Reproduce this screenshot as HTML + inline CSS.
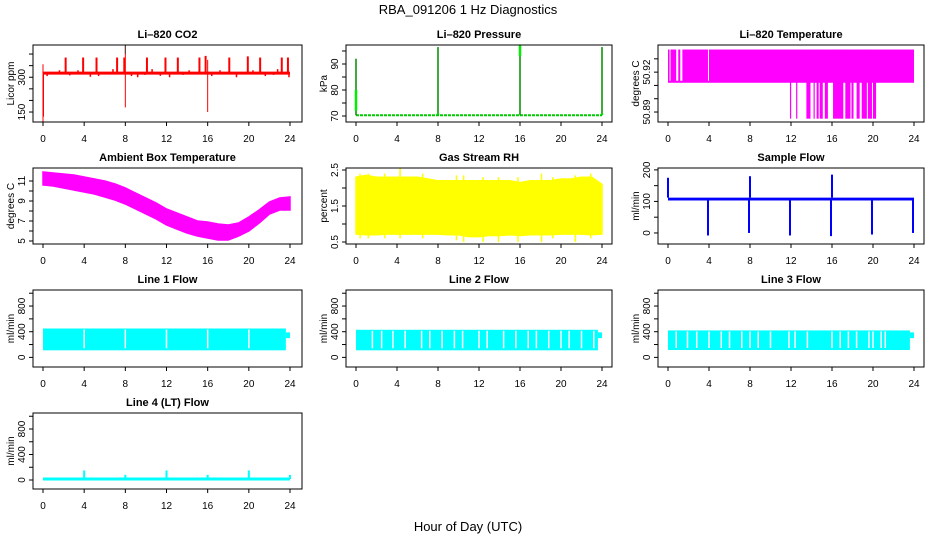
<!DOCTYPE html>
<html><head><meta charset="utf-8">
<style>
html,body{margin:0;padding:0;background:#fff;}
svg{display:block;font-family:"Liberation Sans",sans-serif;}
</style></head>
<body>
<svg id="c" width="936" height="540" viewBox="0 0 936 540">
<text x="468" y="14" text-anchor="middle" font-size="13">RBA_091206  1 Hz Diagnostics</text>
<text x="468" y="531" text-anchor="middle" font-size="13">Hour of Day (UTC)</text>
</svg>
<script>
// ---- data ----
const xTicks = [0,4,8,12,16,20,24];
const hours = [0,1,2,3,4,5,6,7,8,9,10,11,12,13,14,15,16,17,18,19,20,21,22,23,24];
// CO2
const co2Base = 318;
const co2SpikeT = [2.2,3.9,5.2,7.2,7.9,10.1,11.9,13.1,15.2,15.8,18.1,19.9,21.1,23.2,23.8];
const co2SpikeV = [385,385,385,385,385,385,385,385,385,392,385,390,385,385,385];
const co2SmallT = [0.4,1.0,1.6,2.6,3.4,4.6,5.4,6.2,6.8,8.6,9.2,9.9,10.6,11.4,12.3,13.6,14.2,14.6,16.4,17.2,18.8,19.4,20.4,21.6,22.4,22.8,23.9];
const co2SmallV = [305,312,330,308,330,302,305,312,335,305,300,310,335,306,300,310,330,315,305,330,300,312,330,305,310,335,300];
const co2BigT = [0,0.05,8,16];
const co2BigLo = [107,130,170,150];
const co2BigHi = [356,320,439,375];
// Pressure
const presBase = 70.3;
const presSpikeT = [0,8,16,24];
const presSpikeV = [92,96.5,97.5,96.5];
const presThickLo = [72,70.5,93,70.5];
const presThickHi = [80,71,97.5,71];
// Li-820 temperature
const tempLo = 50.912, tempHi = 50.937, tempMin = 50.885;
const tempGapStart = [0.15,0.8,1.2,3.9];
const tempGapEnd = [0.25,1.0,1.4,4.0];
const tempDropStart = [11.9,12.5,13.5,14.2,14.5,14.8,15.3,16.1,17.3,17.9,18.4,18.9,19.5,20.0];
const tempDropEnd = [12.0,12.6,13.9,14.3,14.7,15.1,15.6,17.1,17.8,18.1,18.7,19.4,19.9,20.3];
// Ambient box temperature
const ambHi = [11.9,11.8,11.7,11.6,11.4,11.2,11.0,10.7,10.3,9.8,9.3,8.8,8.2,7.8,7.4,7.0,6.9,6.7,6.6,6.8,7.4,8.1,8.9,9.3,9.4];
const ambLo = [10.6,10.5,10.3,10.1,9.9,9.7,9.4,9.1,8.7,8.2,7.7,7.2,6.6,6.2,5.8,5.5,5.3,5.1,5.1,5.5,6.0,6.8,7.7,8.1,8.1];
// Gas stream RH
const rhHi = [2.3,2.35,2.3,2.3,2.3,2.3,2.3,2.25,2.2,2.2,2.2,2.2,2.2,2.2,2.2,2.2,2.15,2.2,2.2,2.2,2.25,2.25,2.3,2.3,2.1];
const rhLo = [0.72,0.7,0.7,0.72,0.72,0.72,0.72,0.72,0.72,0.7,0.7,0.65,0.65,0.68,0.68,0.7,0.68,0.7,0.7,0.7,0.72,0.72,0.72,0.7,0.72];
const rhSpikeT = [0.4,1.2,2.8,4.3,6.5,9.8,10.5,12.4,13.9,15.8,18.1,19.2,21.4,22.9];
const rhSpikeHi = [2.4,2.4,2.4,2.55,2.4,2.35,2.35,2.3,2.3,2.3,2.4,2.3,2.35,2.4];
const rhSpikeLo = [0.6,0.6,0.6,0.6,0.6,0.55,0.5,0.5,0.5,0.5,0.5,0.6,0.5,0.6];
// Sample flow
const sfHi = 112, sfLo = 103;
const sfDipT = [4,8,12,16,20,24];
const sfDipV = [-8,0,-8,-10,-5,0];
const sfSpikeT = [0,8,16];
const sfSpikeV = [175,180,185];
// Line flows
const l1Hi = 450, l1Lo = 110, l1Gaps = [4,8,12,16,20];
const l2Hi = 430, l2Lo = 110, l2Gaps = [1.6,2.5,3.6,4.8,6.4,7.2,8.4,9.6,10.4,12.0,12.8,14.4,15.6,16.8,17.6,18.8,20.0,20.8,22.0,23.2];
const l3Hi = 420, l3Lo = 115, l3Gaps = [0.8,1.9,2.8,4.0,5.2,6.0,7.2,8.0,8.8,10.0,11.8,12.4,13.6,16.0,16.8,17.6,18.4,19.6,20.0,20.8,21.2];
// Line 4
const l4Base = 15;
const l4SpikeT = [4,8,12,16,20,24];
const l4SpikeV = [150,80,150,80,150,80];

// ---- layout ----
const NS = "http://www.w3.org/2000/svg";
const svg = document.getElementById('c');
const colL = [33,346,658], colR = [302,612,924], colX0 = [43,356,668], colX24 = [290,602,914];
const rowT = [45,168,290,413], rowB = [122,244,367,489];
function mk(tag, attrs, parent){
  const e = document.createElementNS(NS, tag);
  for (const k in attrs) e.setAttribute(k, attrs[k]);
  (parent||svg).appendChild(e);
  return e;
}
function panel(col,row,name,title,ylab,ylim,ticks,labels,draw){
  const g = mk('g',{});
  
  
  const L=colL[col],R=colR[col],T=rowT[row],B=rowB[row];
  const sx = h => colX0[col] + (colX24[col]-colX0[col])*h/24;
  const sy = v => B - (v-ylim[0])/(ylim[1]-ylim[0])*(B-T);
  const plot = mk('g',{},g);
  
  
  draw(plot,sx,sy,L,R,T,B);
  const box = mk('rect',{x:L,y:T,width:R-L,height:B-T,fill:'none',stroke:'#000','stroke-width':1},g);
  
  
  const t = mk('text',{x:(L+R)/2,y:T-7,'text-anchor':'middle','font-size':11,'font-weight':'bold'},g);
  t.textContent = title;
  
  
  const yl = mk('text',{transform:`translate(${L-19},${(T+B)/2}) rotate(-90)`,'text-anchor':'middle','font-size':10},g);
  yl.textContent = ylab;
  
  
  const ya = mk('g',{},g);
  
  
  ticks.forEach(v=>{
    const y=sy(v);
    mk('line',{x1:L-4,x2:L,y1:y,y2:y,stroke:'#000'},ya);
  });
  labels.forEach(v=>{
    const y=sy(v);
    const tl = mk('text',{transform:`translate(${L-8},${y}) rotate(-90)`,'text-anchor':'middle','font-size':10},ya);
    tl.textContent = String(v);
  });
  const xa = mk('g',{},g);
  
  
  xTicks.forEach(h=>{
    const x=sx(h);
    mk('line',{x1:x,x2:x,y1:B,y2:B+4,stroke:'#000'},xa);
    const tl = mk('text',{x:x,y:B+20,'text-anchor':'middle','font-size':10},xa);
    tl.textContent = String(h);
  });
}
function vline(p,x,y1,y2,c,w){ mk('line',{x1:x,x2:x,y1:y1,y2:y2,stroke:c,'stroke-width':w||1},p); }
function band(p,sx,sy,hi,lo,c){
  let d='M'+hours.map((h,i)=>sx(h)+','+sy(hi[i])).join(' L');
  d+=' L'+hours.slice().reverse().map((h,i)=>sx(h)+','+sy(lo[hours.length-1-i])).join(' L')+' Z';
  mk('path',{d:d,fill:c,stroke:c,'stroke-width':1.5},p);
}

// CO2
panel(0,0,'co2','Li\u2013820 CO2','Licor ppm',[107,439],[150,200,250,300,350,400],[150,300],(p,sx,sy)=>{
  mk('line',{x1:sx(0),x2:sx(24),y1:sy(co2Base),y2:sy(co2Base),stroke:'red','stroke-width':3},p);
  co2SpikeT.forEach((t,i)=>vline(p,sx(t),sy(co2Base),sy(co2SpikeV[i]),'red',2));
  co2SmallT.forEach((t,i)=>vline(p,sx(t),sy(co2Base),sy(co2SmallV[i]),'red',1.5));
  co2BigT.forEach((t,i)=>vline(p,sx(t),sy(co2BigLo[i]),sy(co2BigHi[i]),'red',1));
  vline(p,sx(8),sy(400),sy(439),'#444',1);
});
// Pressure
panel(1,0,'pressure','Li\u2013820 Pressure','kPa',[67.7,97.3],[70,75,80,85,90,95],[70,80,90],(p,sx,sy)=>{
  mk('line',{x1:sx(0),x2:sx(24),y1:sy(presBase),y2:sy(presBase),stroke:'#00cc00','stroke-width':2,'stroke-dasharray':'3,1'},p);
  presSpikeT.forEach((t,i)=>{
    vline(p,sx(t),sy(presBase),sy(presSpikeV[i]),'#00cc00',1.5);
    vline(p,sx(t),sy(presBase),sy(presSpikeV[i]),'#004400',0.7);
    vline(p,sx(t),sy(presThickLo[i]),sy(presThickHi[i]),'#00ee00',2.5);
  });
});
// Li-820 temperature
panel(2,0,'li820-temperature','Li\u2013820 Temperature','degrees C',[50.8825,50.9404],[50.89,50.90,50.91,50.92,50.93],[50.89,50.92],(p,sx,sy)=>{
  mk('rect',{x:sx(0),y:sy(tempHi),width:sx(24)-sx(0),height:sy(tempLo)-sy(tempHi),fill:'#ff00ff'},p);
  tempGapStart.forEach((s,i)=>mk('rect',{x:sx(s),y:sy(tempHi),width:Math.max(1,sx(tempGapEnd[i])-sx(s)),height:sy(tempLo)-sy(tempHi)-2,fill:'#fff'},p));
  tempDropStart.forEach((s,i)=>mk('rect',{x:sx(s),y:sy(tempHi),width:Math.max(1.2,sx(tempDropEnd[i])-sx(s)),height:sy(tempMin)-sy(tempHi),fill:'#ff00ff'},p));
});
// Ambient
panel(0,1,'ambient-box-temperature','Ambient Box Temperature','degrees C',[4.7,12.3],[5,6,7,8,9,10,11],[5,7,9,11],(p,sx,sy)=>{
  band(p,sx,sy,ambHi,ambLo,'#ff00ff');
});
// RH
panel(1,1,'gas-stream-rh','Gas Stream RH','percent',[0.444,2.556],[0.5,1.0,1.5,2.0,2.5],[0.5,1.5,2.5],(p,sx,sy)=>{
  band(p,sx,sy,rhHi,rhLo,'#ffff00');
  rhSpikeT.forEach((t,i)=>vline(p,sx(t),sy(rhSpikeLo[i]),sy(rhSpikeHi[i]),'#ffff00',1.5));
});
// Sample flow
panel(2,1,'sample-flow','Sample Flow','ml/min',[-35,206],[0,50,100,150,200],[0,100,200],(p,sx,sy)=>{
  mk('rect',{x:sx(0),y:sy(sfHi),width:sx(24)-sx(0),height:sy(sfLo)-sy(sfHi),fill:'#0000ff'},p);
  sfDipT.forEach((t,i)=>vline(p,sx(t)-1,sy(sfLo),sy(sfDipV[i]),'#0000ff',2));
  sfSpikeT.forEach((t,i)=>vline(p,sx(t),sy(sfHi),sy(sfSpikeV[i]),'#0000ff',2));
});
// Line flows
function flowPanel(col,row,name,title,hi,lo,gaps){
  panel(col,row,name,title,'ml/min',[-150,1050],[0,200,400,600,800,1000],[0,400,800],(p,sx,sy)=>{
    mk('rect',{x:sx(0),y:sy(hi),width:sx(23.6)-sx(0),height:sy(lo)-sy(hi),fill:'#00ffff'},p);
    mk('rect',{x:sx(23.6),y:sy(390),width:sx(24)-sx(23.6),height:sy(300)-sy(390),fill:'#00ffff'},p);
    gaps.forEach(g=>vline(p,sx(g),sy(hi)+1,sy(lo)-2,'#fff',1.5));
  });
}
flowPanel(0,2,'line-1-flow','Line 1 Flow',l1Hi,l1Lo,l1Gaps);
flowPanel(1,2,'line-2-flow','Line 2 Flow',l2Hi,l2Lo,l2Gaps);
flowPanel(2,2,'line-3-flow','Line 3 Flow',l3Hi,l3Lo,l3Gaps);
// Line 4
panel(0,3,'line-4-flow','Line 4 (LT) Flow','ml/min',[-141,1051],[0,200,400,600,800,1000],[0,400,800],(p,sx,sy)=>{
  mk('line',{x1:sx(0),x2:sx(24),y1:sy(l4Base),y2:sy(l4Base),stroke:'#00ffff','stroke-width':3},p);
  l4SpikeT.forEach((t,i)=>vline(p,sx(t),sy(l4Base),sy(l4SpikeV[i]),'#00ffff',2));
});
</script>
</body></html>
